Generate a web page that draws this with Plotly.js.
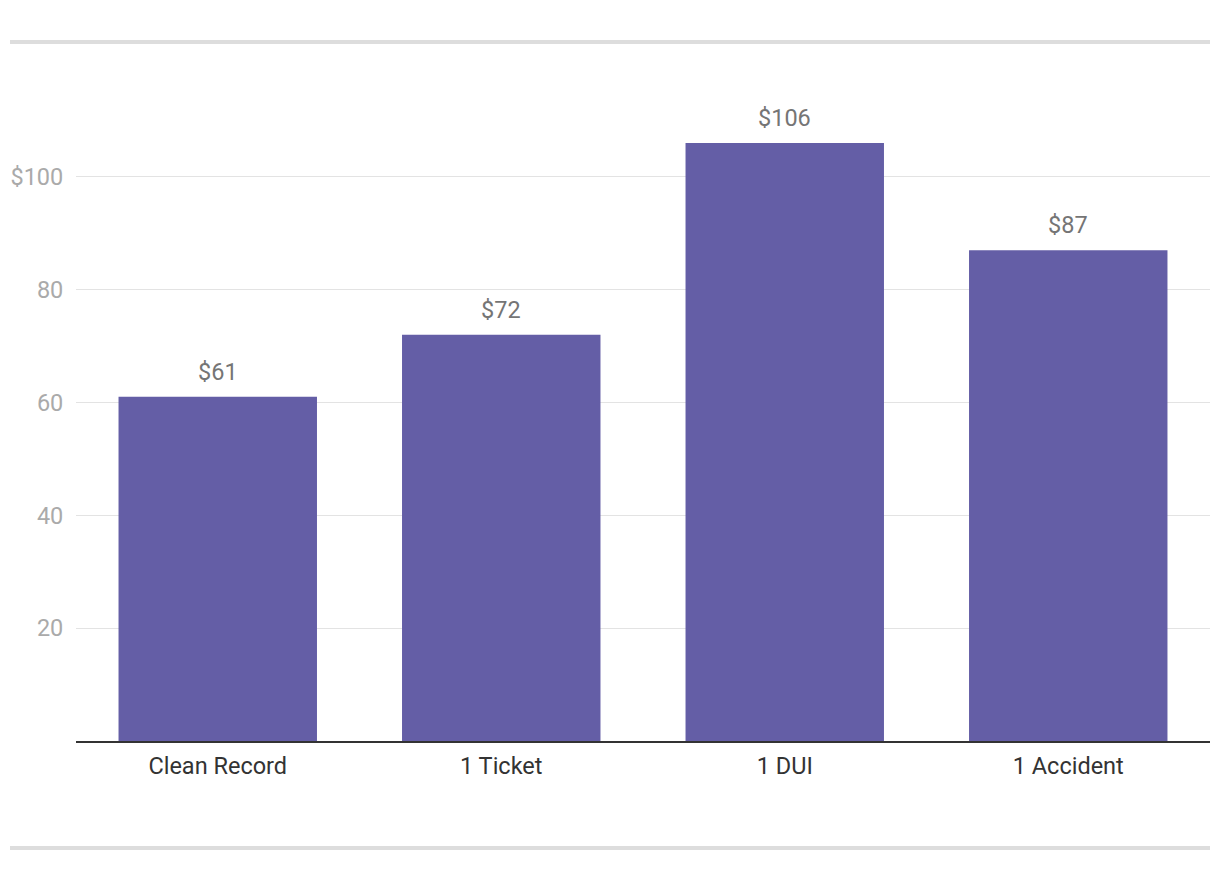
<!DOCTYPE html>
<html>
<head>
<meta charset="utf-8">
<script src="https://cdn.plot.ly/plotly-3.0.1.min.js"></script>
<style>html,body{margin:0;padding:0;background:#fff;}#chart{width:1220px;height:880px;}</style>
</head>
<body>
<div id="chart"></div>
<script>
const categories = ["Clean Record", "1 Ticket", "1 DUI", "1 Accident"];
const premiums = [61, 72, 106, 87];
const valueLabels = ["$61", "$72", "$106", "$87"];
const yTickVals = [20, 40, 60, 80, 100];
const yTickText = ["20", "40", "60", "80", "$100"];

const trace = {
  type: "bar",
  x: categories,
  y: premiums,
  marker: {color: "#645ea6"},
  hoverinfo: "none"
};

const annotations = categories.map((c, i) => ({
  x: c, y: premiums[i], xref: "x", yref: "y",
  text: valueLabels[i], showarrow: false,
  yanchor: "bottom", yshift: 9,
  font: {family: "Roboto", size: 23.5, color: "#757575"}
}));

const layout = {
  width: 1220, height: 880,
  margin: {l: 76, r: 10, t: 64, b: 139},
  paper_bgcolor: "#fff", plot_bgcolor: "#fff",
  font: {family: "Roboto", size: 20},
  bargap: 0.3,
  showlegend: false,
  xaxis: {
    showline: true, linecolor: "#333", linewidth: 1.5,
    ticks: "outside", ticklen: 3, tickcolor: "rgba(0,0,0,0)",
    tickfont: {family: "Roboto", size: 23.5, color: "#333"},
    showgrid: false, fixedrange: true
  },
  yaxis: {
    range: [0, 120],
    tickvals: yTickVals, ticktext: yTickText,
    showgrid: true, gridcolor: "#e3e3e3", gridwidth: 1,
    zeroline: false, showline: false,
    ticks: "outside", ticklen: 7, tickcolor: "rgba(0,0,0,0)",
    tickfont: {family: "Roboto", size: 23.5, color: "#aaa"},
    fixedrange: true
  },
  annotations: annotations,
  shapes: [
    {type: "line", xref: "paper", yref: "paper", x0: -0.0582, x1: 1, y0: 1.0325, y1: 1.0325, line: {color: "#dddddd", width: 4}},
    {type: "line", xref: "paper", yref: "paper", x0: -0.0582, x1: 1, y0: -0.158, y1: -0.158, line: {color: "#dddddd", width: 4}}
  ]
};

Plotly.newPlot("chart", [trace], layout, {displayModeBar: false, staticPlot: true});
</script>
</body>
</html>
